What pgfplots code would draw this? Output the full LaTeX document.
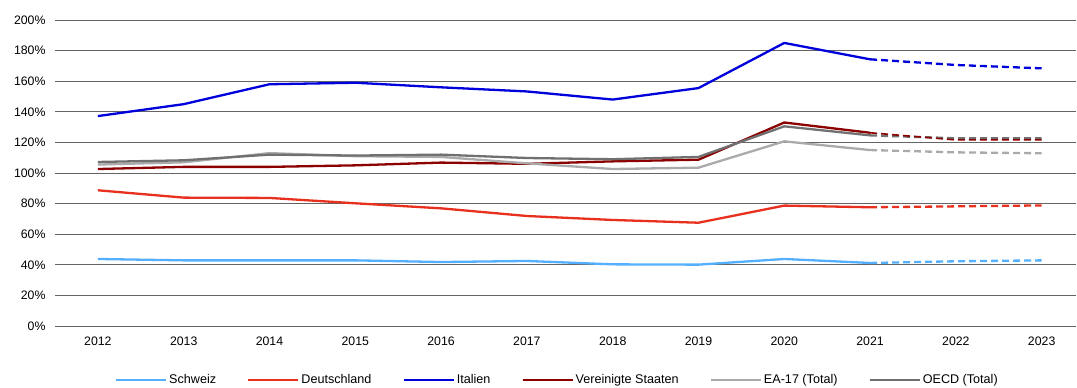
\documentclass[border=0pt]{standalone}
\usepackage{pgfplots}
\pgfplotsset{compat=1.18}
\usepackage{fontspec}
\setmainfont{Liberation Sans}
\definecolor{cCH}{RGB}{85,175,255}
\definecolor{cDE}{RGB}{232,48,30}
\definecolor{cIT}{RGB}{0,0,220}
\definecolor{cUS}{RGB}{140,0,0}
\definecolor{cEA}{RGB}{170,170,170}
\definecolor{cOE}{RGB}{112,112,112}
\definecolor{gridc}{RGB}{100,100,100}
\begin{document}
\begin{tikzpicture}[x=1pt,y=1pt]
\path[use as bounding box] (0,0) rectangle (1077,388);
\begin{axis}[
  at={(55pt,62pt)}, anchor=south west,
  scale only axis, width=1021pt, height=306pt,
  xmin=-0.5, xmax=11.4, ymin=0, ymax=200,
  axis line style={draw=none},
  xtick={0,...,11},
  xticklabels={2012,2013,2014,2015,2016,2017,2018,2019,2020,2021,2022,2023},
  ytick={0,20,...,200},
  yticklabel={\pgfmathprintnumber{\tick}\%},
  major tick length=0pt,
  xmajorgrids=false, ymajorgrids=true,
  major grid style={draw=gridc, line width=0.9pt},
  tick label style={font=\fontsize{12.3}{14}\selectfont},
  xticklabel style={yshift=-7pt},
  yticklabel style={xshift=-6pt},
  /pgf/number format/assume math mode=true,
  every axis plot/.append style={line width=2.3pt, line join=round},
  legend columns=6,
  legend style={at={(0.492,-0.176)}, anchor=center, draw=none, fill=none,
    font=\fontsize{12.6}{14}\selectfont,
    /tikz/every even column/.append style={column sep=29pt},
    nodes={inner sep=2pt}},
  legend image code/.code={\draw[#1,line width=2.3pt] (0pt,0pt) -- (50pt,0pt);},
]
% Schweiz
\addplot[cCH] coordinates {(0,43.8)(1,42.9)(2,42.9)(3,42.9)(4,41.8)(5,42.5)(6,40.3)(7,40.1)(8,43.8)(9,41.2)};
\addlegendentry{Schweiz}
% Deutschland
\addplot[cDE] coordinates {(0,88.7)(1,83.9)(2,83.7)(3,80.2)(4,76.9)(5,71.9)(6,69.3)(7,67.5)(8,78.7)(9,77.6)};
\addlegendentry{Deutschland}
% Italien
\addplot[cIT] coordinates {(0,137.2)(1,145)(2,158)(3,159)(4,156)(5,153.3)(6,148)(7,155.5)(8,185)(9,174.3)};
\addlegendentry{Italien}
% USA
\addplot[cUS] coordinates {(0,102.6)(1,104)(2,104)(3,105)(4,106.8)(5,106)(6,107.6)(7,108.7)(8,133)(9,126.3)};
\addlegendentry{Vereinigte Staaten}
% EA-17
\addplot[cEA] coordinates {(0,105.5)(1,107)(2,113)(3,111)(4,110.5)(5,106.3)(6,102.6)(7,103.5)(8,120.7)(9,115)};
\addlegendentry{EA-17 (Total)}
% OECD
\addplot[cOE] coordinates {(0,107.2)(1,108.3)(2,112)(3,111.4)(4,112)(5,109.8)(6,109)(7,110.5)(8,130.5)(9,124.6)};
\addlegendentry{OECD (Total)}
% dashed forecasts
\addplot[cCH, dash pattern=on 7pt off 4pt, forget plot] coordinates {(9,41.2)(10,42.3)(11,42.9)};
\addplot[cDE, dash pattern=on 7pt off 4pt, forget plot] coordinates {(9,77.6)(10,78.2)(11,78.8)};
\addplot[cIT, dash pattern=on 7pt off 4pt, forget plot] coordinates {(9,174.3)(10,170.6)(11,168.4)};
\addplot[cEA, dash pattern=on 7pt off 4pt, forget plot] coordinates {(9,115)(10,113.5)(11,112.9)};
\addplot[cOE, dash pattern=on 7pt off 4pt, forget plot] coordinates {(9,124.6)(10,122.7)(11,122.7)};
\addplot[cUS, dash pattern=on 7pt off 4pt, line width=1.6pt, forget plot] coordinates {(9,126.3)(10,121.6)(11,121.6)};
\end{axis}
\end{tikzpicture}
\end{document}
